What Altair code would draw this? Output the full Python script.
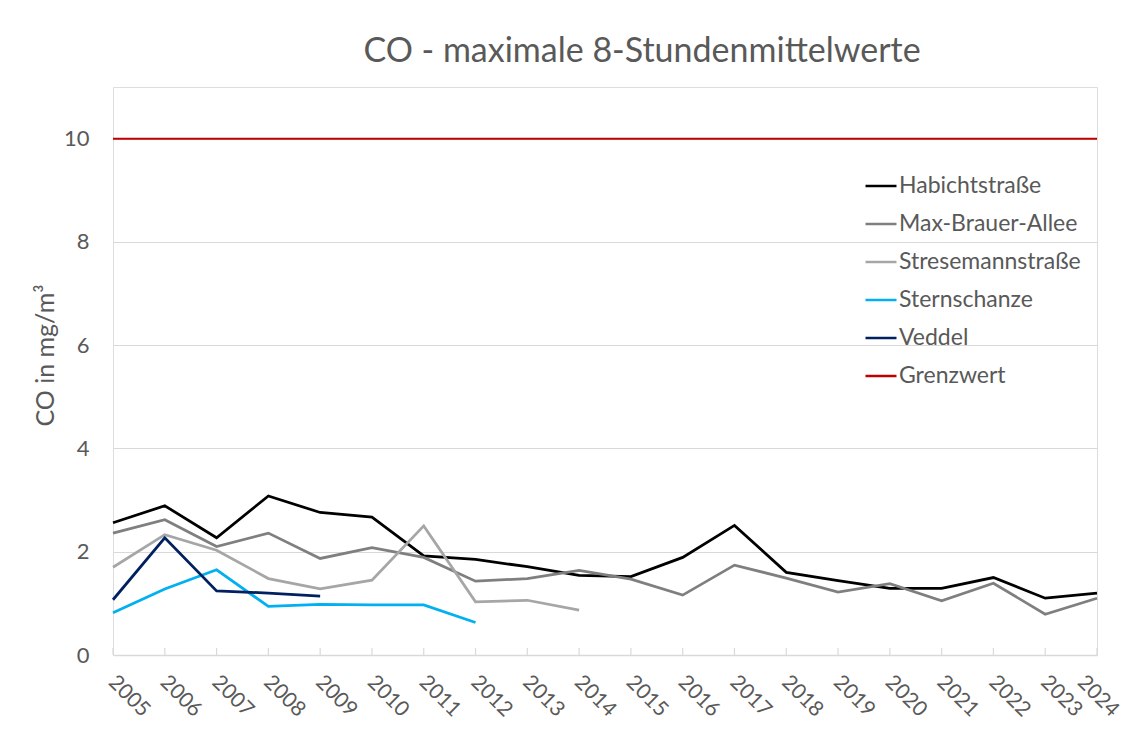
import altair as alt
import pandas as pd

years = [2005, 2006, 2007, 2008, 2009, 2010, 2011, 2012, 2013, 2014,
         2015, 2016, 2017, 2018, 2019, 2020, 2021, 2022, 2023, 2024]

habichtstrasse = [2.56, 2.89, 2.27, 3.08, 2.76, 2.67, 1.92, 1.85, 1.71, 1.54,
                  1.52, 1.89, 2.51, 1.60, 1.44, 1.29, 1.29, 1.50, 1.10, 1.20]
max_brauer_allee = [2.36, 2.62, 2.10, 2.36, 1.87, 2.08, 1.89, 1.43, 1.48, 1.64,
                    1.47, 1.16, 1.74, 1.49, 1.22, 1.38, 1.05, 1.39, 0.79, 1.10]
stresemannstrasse = [1.70, 2.33, 2.03, 1.48, 1.28, 1.45, 2.50, 1.03, 1.06, 0.87,
                     None, None, None, None, None, None, None, None, None, None]
sternschanze = [0.82, 1.28, 1.65, 0.94, 0.98, 0.97, 0.97, 0.63, None, None,
                None, None, None, None, None, None, None, None, None, None]
veddel = [1.07, 2.27, 1.24, 1.20, 1.14, None, None, None, None, None,
          None, None, None, None, None, None, None, None, None, None]
grenzwert = [10, 10, 10, 10, 10, 10, 10, 10, 10, 10,
             10, 10, 10, 10, 10, 10, 10, 10, 10, 10]

series_names = ["Habichtstraße", "Max-Brauer-Allee", "Stresemannstraße",
                "Sternschanze", "Veddel", "Grenzwert"]
series_values = [habichtstrasse, max_brauer_allee, stresemannstrasse,
                 sternschanze, veddel, grenzwert]
series_colors = ["#000000", "#7f7f7f", "#a6a6a6", "#00b0f0", "#002060", "#c00000"]

y_ticks = [0, 2, 4, 6, 8, 10]

rows = []
for order, (name, vals) in enumerate(zip(series_names, series_values)):
    for yr, v in zip(years, vals):
        if v is not None:
            rows.append({"Jahr": yr, "Wert": v, "Reihe": name, "ord": order})
df = pd.DataFrame(rows)
ticks_df = pd.DataFrame({"Jahr": years})

FONT = "Lato"
TXT = "#595959"
W, H = 984, 568

x_scale = alt.Scale(domain=[2005, 2024], nice=False, zero=False)

lines = alt.Chart(df).mark_line(clip=False).encode(
    x=alt.X("Jahr:Q", scale=x_scale,
            axis=alt.Axis(values=years, format="d", labelAngle=45, grid=False,
                          ticks=False, domain=True, domainColor="#d9d9d9",
                          domainWidth=1.5, labelFont=FONT, labelFontSize=21,
                          labelColor=TXT, labelPadding=16, labelOverlap=False,
                          labelBound=False, labelFlush=False,
                          labelOffset={"condition": {"test": "datum.value == 2024",
                                                     "value": -9},
                                       "value": 6},
                          labelAlign="left", labelBaseline="top", title=None)),
    y=alt.Y("Wert:Q", scale=alt.Scale(domain=[0, 11], nice=False),
            axis=alt.Axis(values=y_ticks, grid=True, gridColor="#d9d9d9",
                          gridWidth=1, domain=False, ticks=False,
                          labelFont=FONT, labelFontSize=22, labelColor=TXT,
                          labelPadding=24, title="CO in mg/m³",
                          titleFont=FONT, titleFontSize=25, titleColor=TXT,
                          titleFontWeight="normal", titleAngle=270,
                          titleX=-68, titleY=268, titleBaseline="middle",
                          titleAlign="center")),
    color=alt.Color("Reihe:N",
                    scale=alt.Scale(domain=series_names, range=series_colors),
                    legend=alt.Legend(orient="none", legendX=751, legendY=82,
                                      title=None, symbolType="stroke",
                                      symbolSize=961, symbolStrokeWidth=2.5,
                                      labelFont=FONT, labelFontSize=23,
                                      labelColor=TXT, labelOffset=1,
                                      labelLimit=400,
                                      rowPadding=9, padding=0)),
    order=alt.Order("ord:Q"),
    strokeWidth=alt.condition(alt.datum.Reihe == "Grenzwert",
                              alt.value(2), alt.value(2.75)),
)

tick_rules = alt.Chart(ticks_df).mark_rule(color="#d9d9d9", strokeWidth=1.2).encode(
    x=alt.X("Jahr:Q", scale=x_scale),
    y=alt.value(H - 7),
    y2=alt.value(H),
)

chart = alt.layer(tick_rules, lines).properties(
    width=W, height=H,
    autosize=alt.AutoSizeParams(type="none"),
    padding={"left": 105, "top": 79, "right": 31, "bottom": 67},
    title=alt.TitleParams("CO - maximale 8-Stundenmittelwerte", font=FONT,
                          fontSize=34, color=TXT, fontWeight="normal",
                          anchor="middle", frame="group", dx=37, dy=32,
                          baseline="alphabetic", offset=23),
).configure_view(fill="#f7f7f7", stroke=None).configure(background="white")

chart.save("out.html", embed_options={"renderer": "svg", "actions": False})
